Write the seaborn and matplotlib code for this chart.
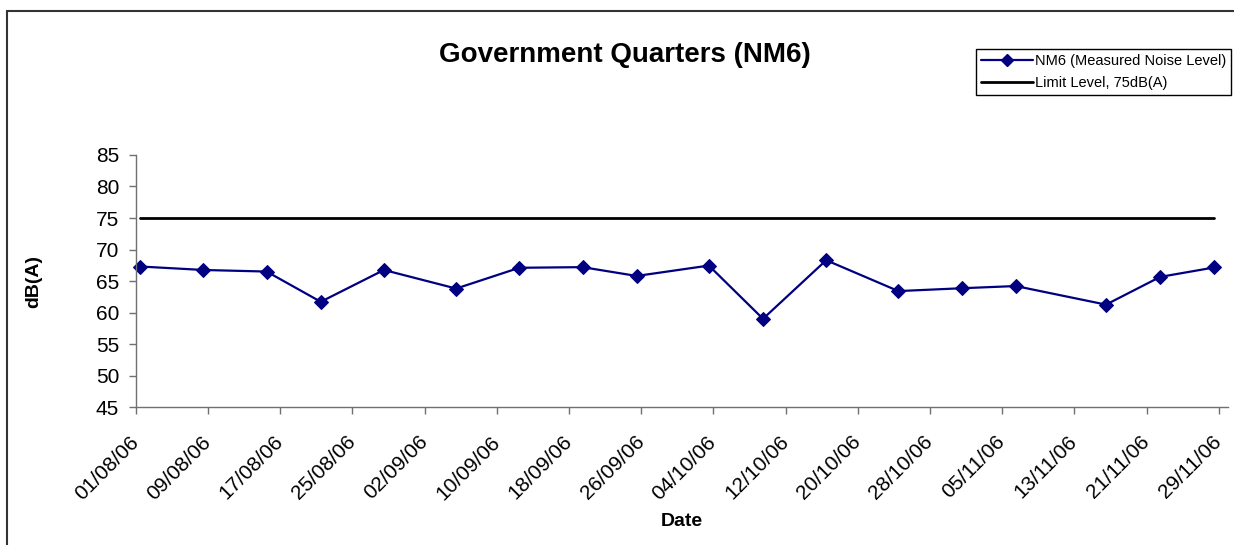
import matplotlib
matplotlib.use("Agg")
import matplotlib.pyplot as plt
import matplotlib.dates as mdates
from matplotlib.patches import Rectangle
from matplotlib.lines import Line2D
import pandas as pd
import seaborn as sns

# measured noise levels at NM6
dates = ["2006-08-01", "2006-08-08", "2006-08-15", "2006-08-21", "2006-08-28",
         "2006-09-05", "2006-09-12", "2006-09-19", "2006-09-25", "2006-10-03",
         "2006-10-09", "2006-10-16", "2006-10-24", "2006-10-31", "2006-11-06",
         "2006-11-16", "2006-11-22", "2006-11-28"]
noise_db = [67.3, 66.75, 66.5, 61.7, 66.75, 63.8, 67.1, 67.2, 65.8, 67.45,
            59.0, 68.3, 63.4, 63.85, 64.2, 61.25, 65.65, 67.15]
limit_db = 75
series_labels = ["NM6 (Measured Noise Level)", "Limit Level, 75dB(A)"]

sns.set_style("white", rc={"text.color": "black", "axes.labelcolor": "black",
                           "xtick.color": "black", "ytick.color": "black",
                           "xtick.bottom": True, "ytick.left": True})
plt.rcParams["font.family"] = ["Liberation Sans", "DejaVu Sans"]

# Excel puts daily points in the middle of the day
df = pd.DataFrame({"date": pd.to_datetime(dates) + pd.Timedelta(hours=12),
                   "noise": noise_db})
df["limit"] = limit_db

fig = plt.figure(figsize=(12.34, 5.45), dpi=100)
ax = fig.add_axes([0.110, 0.2532, 0.885, 0.4624])

sns.lineplot(data=df, x="date", y="limit", ax=ax, color="black",
             linewidth=2.0, legend=False)
sns.lineplot(data=df, x="date", y="noise", ax=ax, color="#000080",
             linewidth=1.6, marker="D", markersize=7, markeredgecolor="#000080",
             legend=False, clip_on=False)

ax.set_ylim(45, 85)
ax.set_yticks(range(45, 86, 5))
start = pd.Timestamp("2006-08-01")
ax.set_xlim(start, pd.Timestamp("2006-11-30"))
ax.set_xticks(pd.date_range(start, "2006-11-29", freq="8D"))
ax.xaxis.set_major_formatter(mdates.DateFormatter("%d/%m/%y"))

for side in ["top", "right"]:
    ax.spines[side].set_visible(False)
for side in ["left", "bottom"]:
    ax.spines[side].set_color("#707070")
    ax.spines[side].set_linewidth(1.0)

ax.tick_params(axis="both", direction="out", length=5, width=1,
               color="#707070", labelcolor="black", labelsize=15)
ax.tick_params(axis="x", pad=18)
ax.tick_params(axis="y", pad=7)
plt.setp(ax.get_xticklabels(), rotation=45, ha="right", va="center",
         rotation_mode="anchor")

ax.set_xlabel("Date", fontsize=14, fontweight="bold", va="top")
ax.set_ylabel("dB(A)", fontsize=14, fontweight="bold")
ax.xaxis.set_label_coords(0.5, -0.42)
ax.yaxis.set_label_coords(-0.086, 0.5)

fig.text(0.5065, 1 - 55 / 545, "Government Quarters (NM6)", ha="center",
         va="center", fontsize=20, fontweight="bold", color="black")

handles = [Line2D([], [], color="#000080", lw=1.6, marker="D", markersize=6.5),
           Line2D([], [], color="black", lw=2.0)]
leg = fig.legend(handles, series_labels, loc="upper right",
                 bbox_to_anchor=(1231 / 1234, 1 - 49 / 545), fontsize=10.5,
                 frameon=True, fancybox=False, framealpha=1, edgecolor="black",
                 handlelength=3.6, handletextpad=0.1, borderpad=0.35,
                 labelspacing=0.55, borderaxespad=0)
leg.get_frame().set_linewidth(1.0)

# chart-area border (the screenshot cuts it off on the right and bottom)
fig.add_artist(Rectangle((7 / 1234, -0.2), 1.5, 0.2 + 1 - 11 / 545,
                         transform=fig.transFigure, fill=False,
                         edgecolor="#333333", linewidth=1.5))

fig.savefig("out.png", dpi=100)
